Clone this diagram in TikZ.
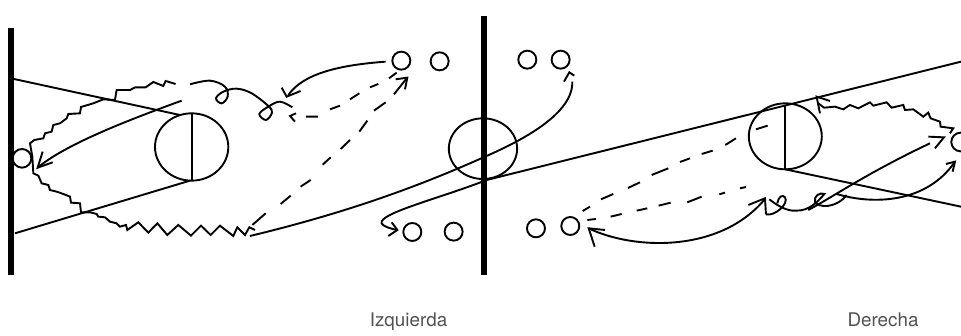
\documentclass[tikz,border=0pt]{standalone}
\usepackage{fontspec}
\usetikzlibrary{shapes.geometric}
\setmainfont{TeX Gyre Heros}
\tikzset{
  ink/.style={line width=1.9pt,line join=miter,black},
  post/.style={fill=black,draw=none},
  player/.style={circle,draw,line width=1.9pt,minimum size=18pt,inner sep=0pt,outer sep=0pt},
  lab/.style={font=\fontsize{18.8}{22}\selectfont,text=black!68,inner sep=0pt,anchor=base}
}
\begin{document}
\begin{tikzpicture}[x=1pt,y=-1pt]
\clip (0,0) rectangle (961,335);
\fill[white] (0,0) rectangle (961,335);
\fill[post] (8,28) rectangle (14,275);
\fill[post] (481,16) rectangle (487,275);
\node[lab] (izq) at (408.5,326) {Izquierda};
\node[lab] (der) at (883,326) {Derecha};
% left part
\begin{scope}[shift={(0,10)},x=0.3333pt,y=-0.3333pt,ink]
\draw (42,207) -- (540,315);
\draw (45,670) -- (570,512);
\node[ink,draw,ellipse,minimum width=220*0.3333pt,minimum height=202*0.3333pt,inner sep=0pt] (rl) at (575,411) {};
\draw (575,310) -- (575,512);
\node[ink,draw,circle,minimum size=56*0.3333pt,inner sep=0pt] (bl) at (66,445) {};
\draw (545,272) .. controls (400,325) and (200,400) .. (113,473);
\draw (158,457) -- (113,473) -- (128,425);
\draw (527,222)--(497,213)--(490,228)--(460,216)--(437,232)--(405,232)--(390,240)--(350,240)--(345,270)--(310,268)--(280,280)--(243,291)--(240,310)--(205,312)--(200,325)--(180,340)--(160,345)--(155,365)--(135,370)--(130,385)--(103,390)--(90,400)--(97,440)--(100,490)--(115,497)--(125,520)--(145,525)--(150,540)--(170,545)--(190,552)--(210,560)--(213,578)--(240,580)--(243,607)--(270,607)--(290,612)--(295,620)--(315,622)--(330,635)--(350,640)--(360,650)--(378,645)--(382,660)--(415,637)--(445,668)--(472,640)--(502,675)--(535,645)--(573,677)--(603,647)--(632,675)--(660,647)--(700,678)--(712,652)--(735,675)--(748,652)--(765,660);
\draw plot[smooth,tension=.6] coordinates {(570,223)(630,212)(675,230)(683,260)(665,280)(648,265)(670,245)(710,236)(755,250)(805,288)(816,308)(798,330)(778,312)(805,290)(840,275)(877,292)};
\end{scope}
% middle part
\begin{scope}[shift={(240,10)},x=0.3333pt,y=-0.3333pt,ink]
\node[player] (p1) at (484,152) {};
\node[player] (p2) at (599,154) {};
\node[player] (p3) at (862,149) {};
\node[player] (p4) at (962,149) {};
\node[player] (p5) at (517,666) {};
\node[player] (p6) at (641,665) {};
\node[player] (p7) at (888,655) {};
\node[player] (p8) at (991,648) {};
\node[ink,draw,ellipse,minimum width=205*0.3333pt,minimum height=182*0.3333pt,inner sep=0pt] (rc) at (729,416) {};
\draw (437,155) .. controls (300,165) and (190,190) .. (145,255);
\draw (125,233) -- (140,260) -- (182,243);
\draw (470,188)--(447,205) (415,222)--(390,232) (358,250)--(330,268) (300,287)--(270,298) (234,320)--(198,320);
\draw (168,310)--(150,318)--(165,335);
\draw (37,645)--(77,610) (122,582)--(152,557) (182,530)--(212,510) (248,464)--(272,442) (302,417)--(330,390) (358,365)--(382,332) (402,302)--(437,277) (462,253)--(500,205);
\draw (467,208)--(502,203)--(495,238);
\draw (30,678) .. controls (250,625) and (480,555) .. (735,440) .. controls (850,390) and (1000,310) .. (997,215);
\draw (972,215)--(988,187)--(1003,197);
\draw (780,500) -- (740,510) .. controls (600,565) and (415,610) .. (425,640) .. controls (430,650) and (450,655) .. (470,660);
\draw (455,637)--(472,660)--(445,678);
\end{scope}
% right part
\begin{scope}[shift={(500,40)},x=0.3333pt,y=-0.3333pt,ink]
\draw (0,410) -- (1383,65);
\draw (856,388) -- (1383,500);
\node[ink,draw,ellipse,minimum width=219*0.3333pt,minimum height=198*0.3333pt,inner sep=0pt] (rr) at (856,289) {};
\draw (856,195) -- (856,388);
\node[ink,draw,circle,minimum size=56*0.3333pt,inner sep=0pt] (br) at (1382,306) {};
\draw (248,513)--(270,500) (303,478)--(340,462) (384,444)--(420,427) (455,405)--(505,385) (540,366)--(570,355) (605,342)--(638,332) (676,315)--(708,295) (768,268)--(803,257);
\draw (262,540)--(288,537) (332,530)--(365,522) (410,512)--(442,505) (476,497)--(512,488) (562,487)--(605,470) (658,463)--(675,458) (720,445)--(738,441);
\draw (266,565) .. controls (400,630) and (660,640) .. (795,477);
\draw (315,570)--(266,565)--(284,620);
\draw (745,495)--(795,475)--(798,523);
\draw (798,523) .. controls (825,530) and (868,490) .. (855,472) .. controls (848,462) and (835,470) .. (832,490);
\draw (808,478) .. controls (830,495) and (860,515) .. (890,512) .. controls (925,512) and (950,490) .. (973,462) .. controls (960,455) and (940,470) .. (945,485) .. controls (955,505) and (1010,505) .. (1040,465);
\draw (1010,462) .. controls (1120,495) and (1280,490) .. (1365,365);
\draw (1338,372)--(1365,365)--(1358,395);
\draw (925,510) .. controls (1000,470) and (1100,400) .. (1290,310);
\draw (1285,290)--(1332,292)--(1305,325);
\draw (955,190)--(972,203)--(1005,200)--(1030,208)--(1050,195)--(1075,205)--(1110,187)--(1120,197)--(1160,187)--(1175,203)--(1210,195)--(1215,210)--(1240,208)--(1270,230)--(1285,218)--(1292,235)--(1320,245)--(1322,260)--(1360,265)--(1350,280);
\draw (990,183)--(950,170)--(960,220);
\end{scope}
\end{tikzpicture}
\end{document}
